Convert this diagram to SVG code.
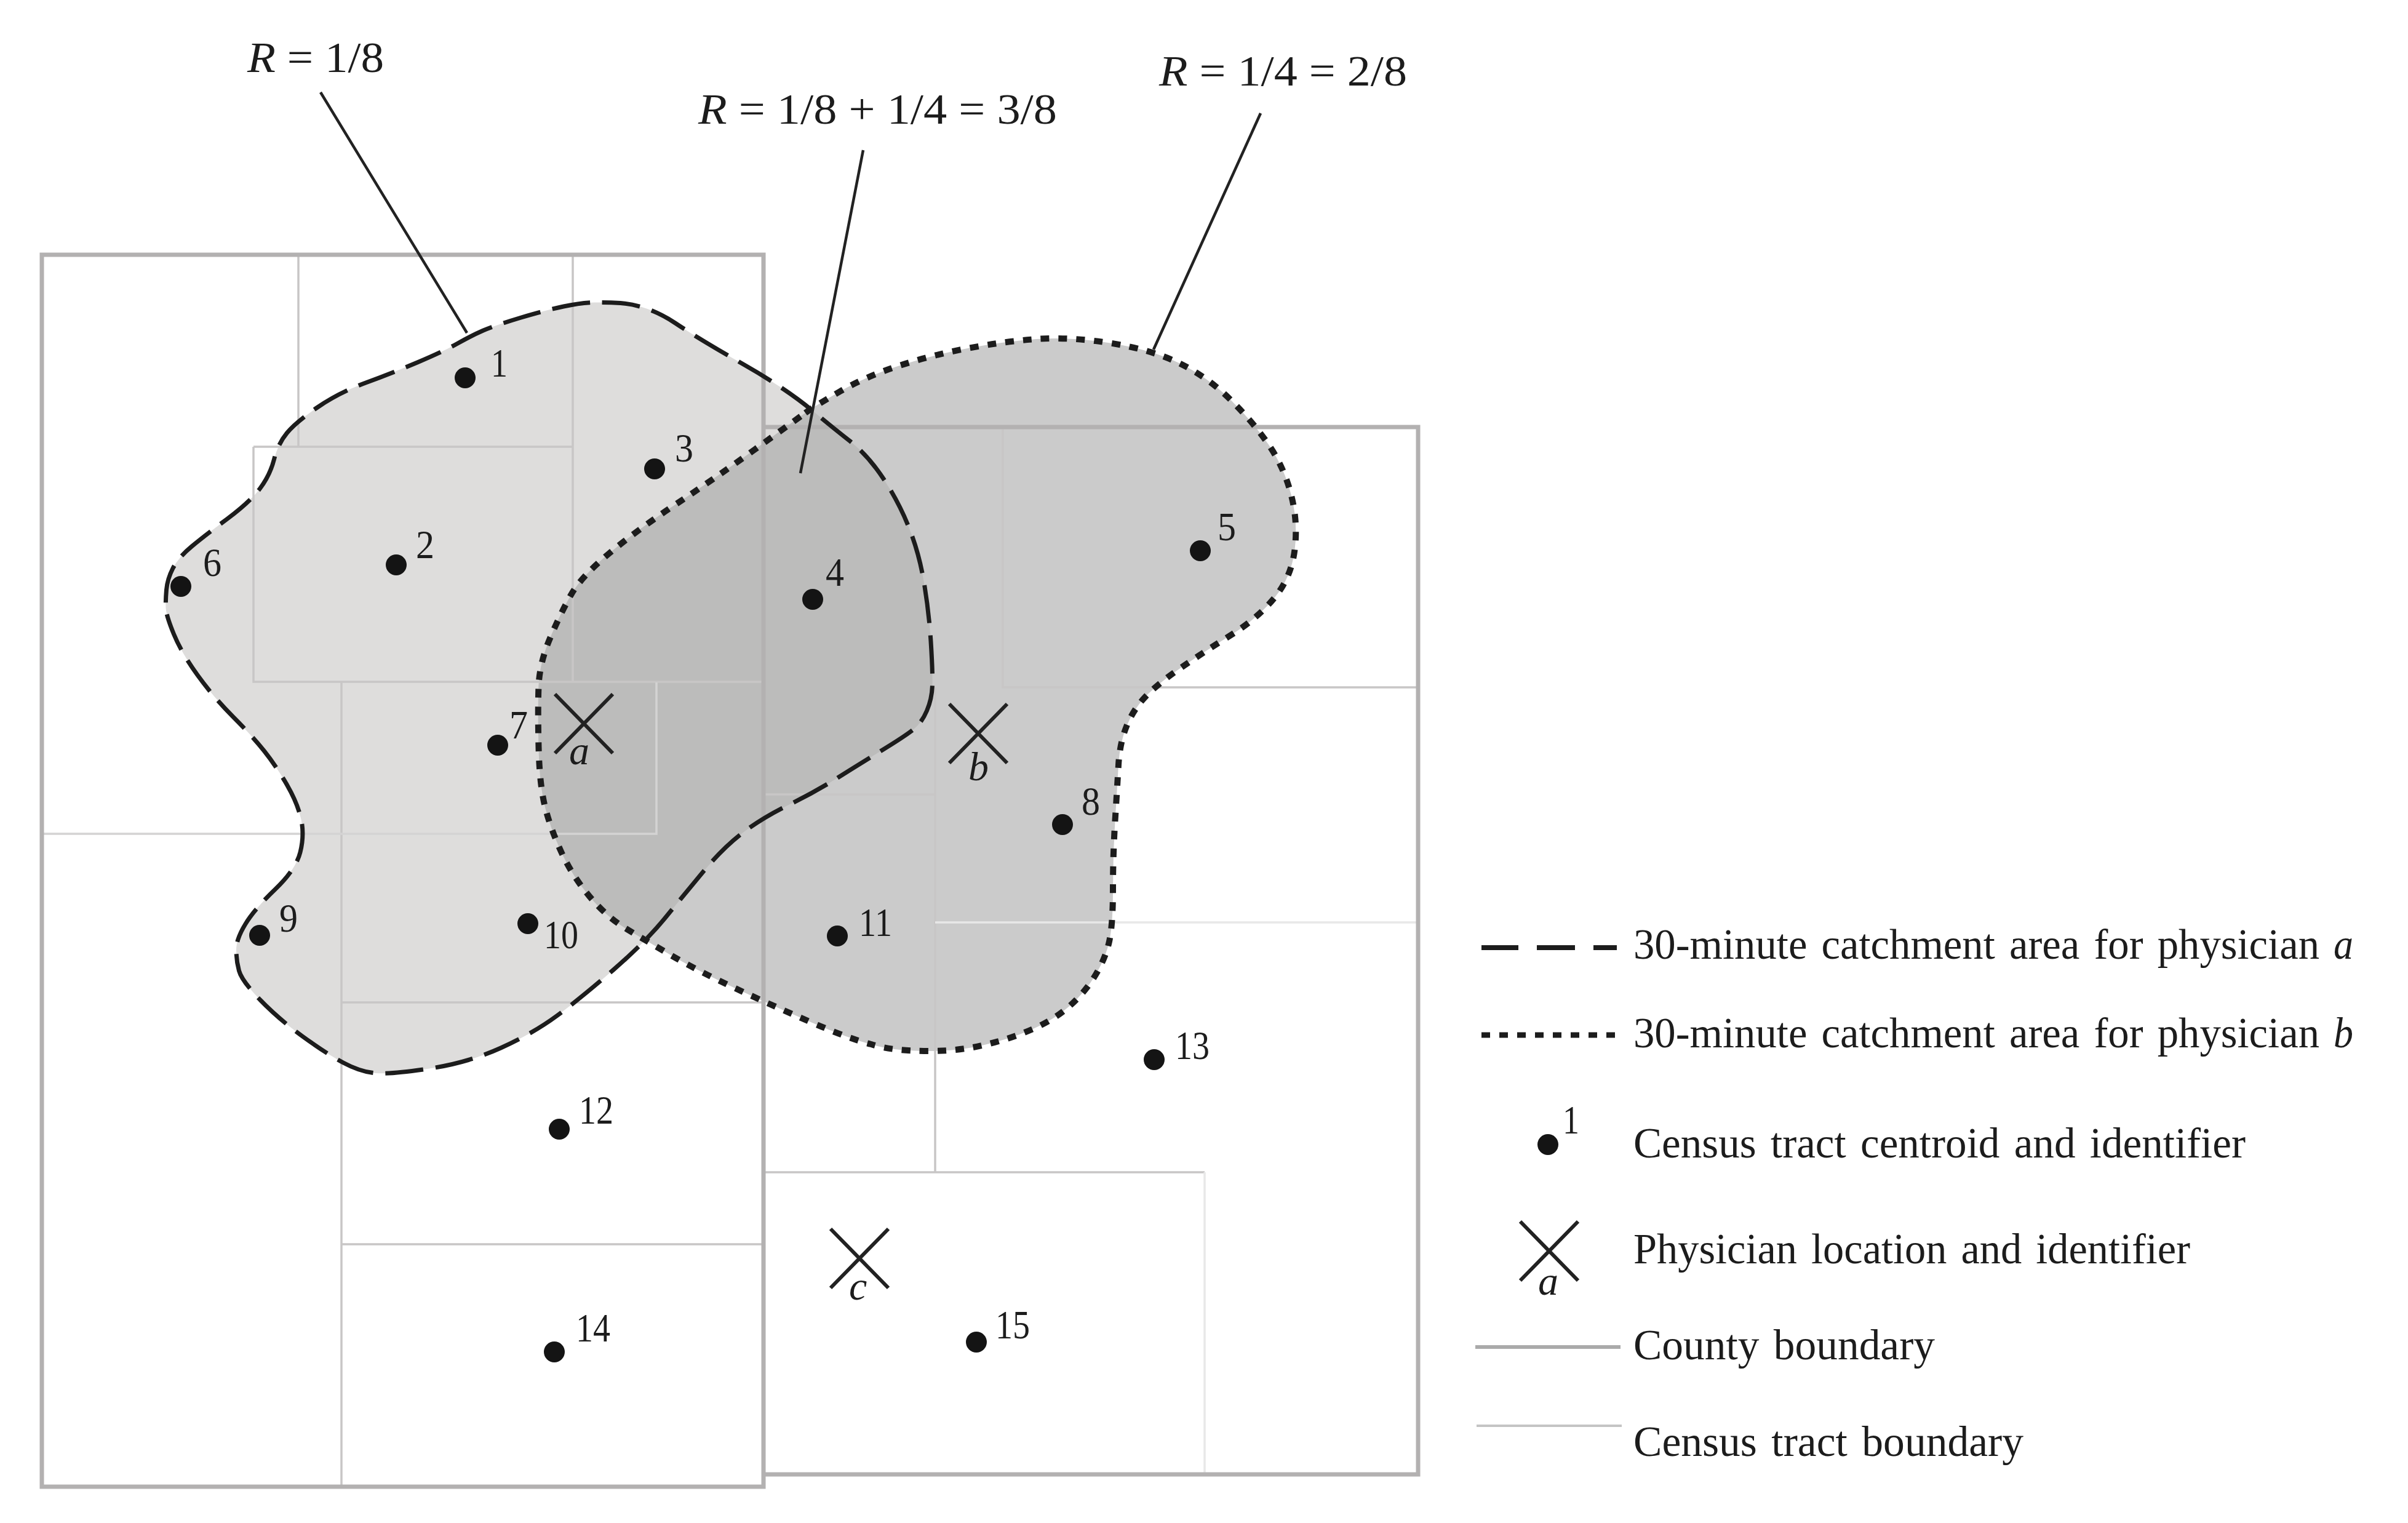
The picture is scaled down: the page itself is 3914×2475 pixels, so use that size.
<svg xmlns="http://www.w3.org/2000/svg" width="3914" height="2475" viewBox="0 0 3914 2475">
<style>
text{font-family:"Liberation Serif","Times New Roman",serif;font-size:69px;fill:#1c1c1c}
.l{word-spacing:6px}
.n{font-size:66px}
.i{font-style:italic}
.county{fill:none;stroke:#b3b1b1;stroke-width:7}
.tract{fill:none;stroke:#c8c6c6;stroke-width:3.5}
.faint{fill:none;stroke:#d4d3d3;stroke-width:3.5}
.vfaint{fill:none;stroke:#e8e8e8;stroke-width:3.5}
.da{fill:none;stroke:#1c1c1c;stroke-width:7;stroke-dasharray:62 20}
.db{fill:none;stroke:#1c1c1c;stroke-width:10;stroke-dasharray:14 15}
.lead{stroke:#222;stroke-width:4.5;fill:none}
.x{stroke:#222;stroke-width:6;fill:none}
.dot{fill:#141414}
</style>
<defs>
<path id="pa" d="M744,558Q767,545 785.5,537Q804,529 845.5,516.5Q887,504 916,498Q945,492 966,491.5Q987,491 1008.5,492.5Q1030,494 1052.5,502Q1075,510 1097.5,525Q1120,540 1150,558Q1180,576 1210,593Q1240,610 1270,630Q1300,650 1325,671Q1350,692 1380.5,716Q1411,740 1436,778Q1461,816 1477.5,857.5Q1494,899 1502,947Q1510,995 1513,1042.5Q1516,1090 1515.5,1112.5Q1515,1135 1506.5,1155Q1498,1175 1484,1186Q1470,1197 1434,1219Q1398,1241 1361.5,1264Q1325,1287 1282,1308Q1239,1329 1207,1353.5Q1175,1378 1143.5,1416Q1112,1454 1080.5,1492.5Q1049,1531 996.5,1576.5Q944,1622 905.5,1650.5Q867,1679 814,1703Q761,1727 698,1736.5Q635,1746 610.5,1744Q586,1742 558,1727Q530,1712 491.5,1684Q453,1656 423,1625Q393,1594 388.5,1577.5Q384,1561 384,1543.5Q384,1526 399,1501.5Q414,1477 447.5,1445Q481,1413 488,1385Q495,1357 489.5,1331.5Q484,1306 466.5,1275.5Q449,1245 429.5,1220.5Q410,1196 378.5,1164.5Q347,1133 321,1097Q295,1061 282.5,1030.5Q270,1000 269.5,988Q269,976 270.5,958.5Q272,941 281,923.5Q290,906 311,888.5Q332,871 369,843.5Q406,816 422.5,794Q439,772 445.5,746.5Q452,721 466.5,703.5Q481,686 516,662Q551,638 594.5,622Q638,606 679.5,588.5Q721,571 744,558Z"/>
<path id="pb" d="M1309,671Q1324,660 1365.5,636Q1407,612 1461,594.5Q1515,577 1573,566Q1631,555 1684.5,551Q1738,547 1804.5,557.5Q1871,568 1916.5,590Q1962,612 1999.5,649Q2037,686 2062,722.5Q2087,759 2098.5,803.5Q2110,848 2104.5,893Q2099,938 2071.5,971.5Q2044,1005 2000,1032.5Q1956,1060 1919,1085.5Q1882,1111 1862,1132Q1842,1153 1831,1180.5Q1820,1208 1818,1243Q1816,1278 1812.5,1333.5Q1809,1389 1809,1444.5Q1809,1500 1803.5,1527.5Q1798,1555 1781.5,1583Q1765,1611 1739.5,1634Q1714,1657 1677,1673Q1640,1689 1600,1698Q1560,1708 1510,1708Q1449,1708 1416,1697Q1383,1689 1319,1661.5Q1255,1634 1194,1605.5Q1133,1577 1091,1552.5Q1049,1528 1017.5,1509Q986,1490 958,1456.5Q930,1423 912.5,1385Q895,1347 886,1311.5Q877,1276 875.5,1214.5Q874,1153 875.5,1115Q877,1077 894.5,1036Q912,995 928.5,966Q945,937 990.5,899Q1036,861 1098.5,819.5Q1161,778 1227.5,730Q1294,682 1309,671Z"/>
<clipPath id="ca"><use href="#pa"/></clipPath>
<g id="xm"><path class="x" d="M-47,-48L47,48M47,-48L-47,48"/></g>
</defs>
<rect width="3914" height="2475" fill="#fff"/>
<g id="fills">
<use href="#pa" fill="#dedddc"/>
<use href="#pb" fill="#cbcbcb"/>
<use href="#pb" fill="#bcbcbb" clip-path="url(#ca)"/>
</g>
<g id="boundaries">
<path class="tract" d="M485,414V726M931,414V1108M412,726H931M412,726V1108H1241M555,1108V2416M555,1629H1241M555,2022H1241M1630,694V1117H2305M1520,1117V1905M1241,1291H1520M1241,1905H1958"/>
<path class="faint" d="M68,1355H1067V1109"/>
<path class="vfaint" d="M1520,1499H2305M1958,1905V2396"/>
<path class="county" d="M68,414H1241V2416H68ZM1241,694H2305V2396H1241"/>
</g>
<g id="catchments">
<use href="#pa" class="da"/>
<use href="#pb" class="db"/>
</g>
<g id="connectors">
<path class="lead" d="M521,150L759,541M1403,244L1301,769M2049,184L1875,568"/>
</g>
<g id="labels">
<text x="402" y="117" textLength="222" lengthAdjust="spacingAndGlyphs"><tspan class="i">R</tspan> = 1/8</text>
<text x="1135" y="201" textLength="583" lengthAdjust="spacingAndGlyphs"><tspan class="i">R</tspan> = 1/8 + 1/4 = 3/8</text>
<text x="1884" y="139" textLength="403" lengthAdjust="spacingAndGlyphs"><tspan class="i">R</tspan> = 1/4 = 2/8</text>
</g>
<g id="t1"><circle class="dot" cx="756" cy="614" r="17"/><text class="n" x="798" y="612" textLength="27" lengthAdjust="spacingAndGlyphs">1</text></g>
<g id="t2"><circle class="dot" cx="644" cy="918" r="17"/><text class="n" x="676" y="907" textLength="30" lengthAdjust="spacingAndGlyphs">2</text></g>
<g id="t3"><circle class="dot" cx="1064" cy="762" r="17"/><text class="n" x="1097" y="750" textLength="30" lengthAdjust="spacingAndGlyphs">3</text></g>
<g id="t4"><circle class="dot" cx="1321" cy="974" r="17"/><text class="n" x="1342" y="952" textLength="30" lengthAdjust="spacingAndGlyphs">4</text></g>
<g id="t5"><circle class="dot" cx="1951" cy="895" r="17"/><text class="n" x="1979" y="878" textLength="30" lengthAdjust="spacingAndGlyphs">5</text></g>
<g id="t6"><circle class="dot" cx="294" cy="953" r="17"/><text class="n" x="330" y="936" textLength="30" lengthAdjust="spacingAndGlyphs">6</text></g>
<g id="t7"><circle class="dot" cx="809" cy="1211" r="17"/><text class="n" x="828" y="1200" textLength="30" lengthAdjust="spacingAndGlyphs">7</text></g>
<g id="t8"><circle class="dot" cx="1727" cy="1340" r="17"/><text class="n" x="1758" y="1324" textLength="30" lengthAdjust="spacingAndGlyphs">8</text></g>
<g id="t9"><circle class="dot" cx="422" cy="1520" r="17"/><text class="n" x="454" y="1514" textLength="30" lengthAdjust="spacingAndGlyphs">9</text></g>
<g id="t10"><circle class="dot" cx="858" cy="1501" r="17"/><text class="n" x="884" y="1541" textLength="56" lengthAdjust="spacingAndGlyphs">10</text></g>
<g id="t11"><circle class="dot" cx="1361" cy="1521" r="17"/><text class="n" x="1396" y="1521" textLength="54" lengthAdjust="spacingAndGlyphs">11</text></g>
<g id="t12"><circle class="dot" cx="909" cy="1835" r="17"/><text class="n" x="941" y="1826" textLength="56" lengthAdjust="spacingAndGlyphs">12</text></g>
<g id="t13"><circle class="dot" cx="1876" cy="1722" r="17"/><text class="n" x="1910" y="1721" textLength="56" lengthAdjust="spacingAndGlyphs">13</text></g>
<g id="t14"><circle class="dot" cx="901" cy="2197" r="17"/><text class="n" x="936" y="2180" textLength="56" lengthAdjust="spacingAndGlyphs">14</text></g>
<g id="t15"><circle class="dot" cx="1587" cy="2181" r="17"/><text class="n" x="1618" y="2175" textLength="56" lengthAdjust="spacingAndGlyphs">15</text></g>
<g id="physician-a"><use href="#xm" x="949" y="1176"/><text class="i n" x="925" y="1242">a</text></g>
<g id="physician-b"><use href="#xm" x="1590" y="1192"/><text class="i n" x="1574" y="1268">b</text></g>
<g id="physician-c"><use href="#xm" x="1397" y="2045"/><text class="i n" x="1380" y="2112">c</text></g>
<g id="legend">
<path d="M2408,1540H2468M2498,1540H2560M2590,1540H2628" stroke="#1c1c1c" stroke-width="8" fill="none"/>
<path d="M2408,1682H2637" stroke="#1c1c1c" stroke-width="9" stroke-dasharray="14 15" fill="none"/>
<circle class="dot" cx="2516" cy="1860" r="17"/><text class="n" x="2540" y="1842" textLength="27" lengthAdjust="spacingAndGlyphs">1</text>
<use href="#xm" x="2518" y="2033"/><text class="i n" x="2500" y="2104">a</text>
<path d="M2398,2189H2634" stroke="#aaa" stroke-width="6" fill="none"/>
<path d="M2400,2317H2636" stroke="#c4c4c4" stroke-width="4" fill="none"/>
<text class="l" x="2655" y="1558" textLength="1115" lengthAdjust="spacingAndGlyphs">30-minute catchment area for physician</text><text class="i" x="3793" y="1558" textLength="32" lengthAdjust="spacingAndGlyphs">a</text>
<text class="l" x="2655" y="1702" textLength="1115" lengthAdjust="spacingAndGlyphs">30-minute catchment area for physician</text><text class="i" x="3793" y="1702" textLength="32" lengthAdjust="spacingAndGlyphs">b</text>
<text class="l" x="2655" y="1881" textLength="995" lengthAdjust="spacingAndGlyphs">Census tract centroid and identifier</text>
<text class="l" x="2655" y="2053" textLength="905" lengthAdjust="spacingAndGlyphs">Physician location and identifier</text>
<text class="l" x="2655" y="2209" textLength="490" lengthAdjust="spacingAndGlyphs">County boundary</text>
<text class="l" x="2655" y="2366" textLength="634" lengthAdjust="spacingAndGlyphs">Census tract boundary</text>
</g>
</svg>
